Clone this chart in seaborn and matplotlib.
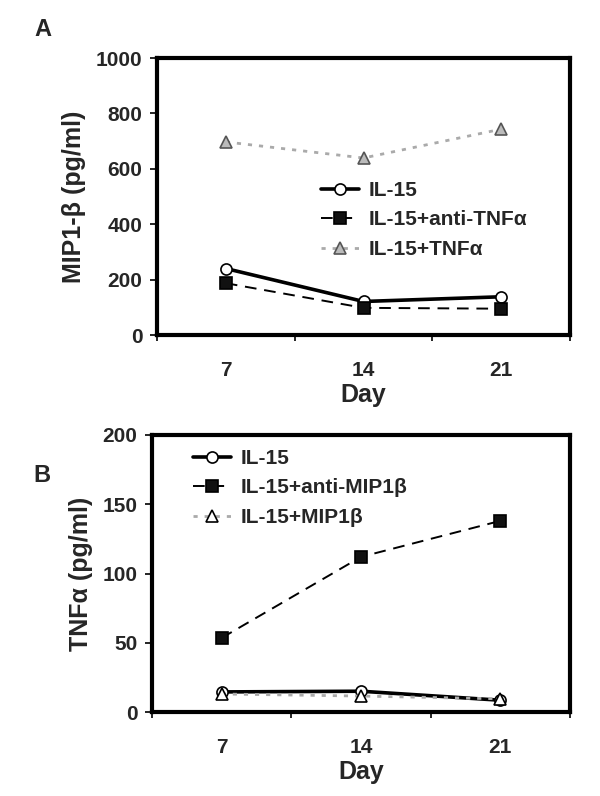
import pandas as pd
import matplotlib
matplotlib.use("Agg")
import matplotlib.pyplot as plt
import seaborn as sns

# ====================== DATA ======================
days = ["7", "14", "21"]

# panel A: MIP1-beta (pg/ml)
mip_il15 = [240, 121, 138]
mip_anti_tnf = [187, 98, 95]
mip_tnf = [697, 639, 743]

# panel B: TNF-alpha (pg/ml)
tnf_il15 = [14.5, 15, 8.5]
tnf_anti_mip = [53.5, 112, 138]
tnf_mip = [13, 11.5, 9.5]

sns.set_theme(style="white")
plt.rcParams["font.family"] = ["Liberation Sans", "DejaVu Sans"]
plt.rcParams["font.weight"] = "bold"

W, H = 600, 796
fig = plt.figure(figsize=(W / 100, H / 100), dpi=100)


def box(left, top, right, bottom):
    # pixel box -> figure fraction
    return [left / W, 1 - bottom / H, (right - left) / W, (bottom - top) / H]


axA = fig.add_axes(box(157, 58, 570, 335))
axB = fig.add_axes(box(152, 435, 570, 712))


def series_df(values, name):
    return pd.DataFrame({"pos": range(len(days)), "val": values, "series": name})


def draw(ax, df, **kw):
    sns.lineplot(data=df, x="pos", y="val", ax=ax, label=df["series"].iloc[0],
                 markersize=8, markeredgewidth=1.2, **kw)


legend_kw = dict(frameon=False, prop={"size": 15, "weight": "bold"},
                 handlelength=1.8, handletextpad=0.5, labelspacing=0.5,
                 borderpad=0, borderaxespad=0, loc="upper left")

# ---------------- panel A ----------------
draw(axA, series_df(mip_il15, "IL-15"), color="black", linewidth=2.6,
     marker="o", markerfacecolor="white", markeredgecolor="black")
draw(axA, series_df(mip_anti_tnf, "IL-15+anti-TNFα"), color="black", linewidth=1.4,
     linestyle=(0, (6, 4)), marker="s", markerfacecolor="#111111", markeredgecolor="black")
draw(axA, series_df(mip_tnf, "IL-15+TNFα"), color="#aaaaaa", linewidth=2,
     linestyle=(0, (1.5, 2.5)), marker="^", markerfacecolor="#bbbbbb", markeredgecolor="#555555")
axA.set_ylim(0, 1000)
axA.set_yticks([0, 200, 400, 600, 800, 1000])
axA.set_ylabel("MIP1-β (pg/ml)", fontsize=18, fontweight="bold", labelpad=7)
axA.legend(bbox_to_anchor=(321 / W, 1 - 181 / H), bbox_transform=fig.transFigure,
           **legend_kw)

# ---------------- panel B ----------------
draw(axB, series_df(tnf_il15, "IL-15"), color="black", linewidth=2.6,
     marker="o", markerfacecolor="white", markeredgecolor="black")
draw(axB, series_df(tnf_anti_mip, "IL-15+anti-MIP1β"), color="black", linewidth=1.4,
     linestyle=(0, (6, 4)), marker="s", markerfacecolor="#111111", markeredgecolor="black")
draw(axB, series_df(tnf_mip, "IL-15+MIP1β"), color="#aaaaaa", linewidth=2,
     linestyle=(0, (1.5, 2.5)), marker="^", markerfacecolor="white", markeredgecolor="black")
axB.set_ylim(0, 200)
axB.set_yticks([0, 50, 100, 150, 200])
axB.set_ylabel("TNFα (pg/ml)", fontsize=18, fontweight="bold", labelpad=7)
axB.legend(bbox_to_anchor=(193 / W, 1 - 449 / H), bbox_transform=fig.transFigure,
           **legend_kw)

for ax in (axA, axB):
    ax.set_xlim(-0.5, len(days) - 0.5)
    ax.set_xticks(range(len(days)))
    ax.set_xticklabels(days)
    ax.set_xticks([i - 0.5 for i in range(len(days) + 1)], minor=True)
    ax.tick_params(axis="x", which="major", length=0, pad=19, labelsize=15)
    ax.tick_params(axis="x", which="minor", length=4.5, width=1.2, direction="out",
                   bottom=True, color="black")
    ax.tick_params(axis="y", length=5, width=1.2, direction="out", left=True,
                   labelsize=15, color="black", pad=5.5)
    for lab in ax.get_xticklabels() + ax.get_yticklabels():
        lab.set_fontweight("bold")
    ax.set_xlabel("Day", fontsize=18, fontweight="bold", labelpad=2)
    for sp in ax.spines.values():
        sp.set_linewidth(3)
        sp.set_color("black")

fig.text(43 / W, 1 - 29 / H, "A", fontsize=17, fontweight="bold", ha="center", va="center")
fig.text(42 / W, 1 - 476 / H, "B", fontsize=17, fontweight="bold", ha="center", va="center")

fig.savefig("out.png", dpi=100)
